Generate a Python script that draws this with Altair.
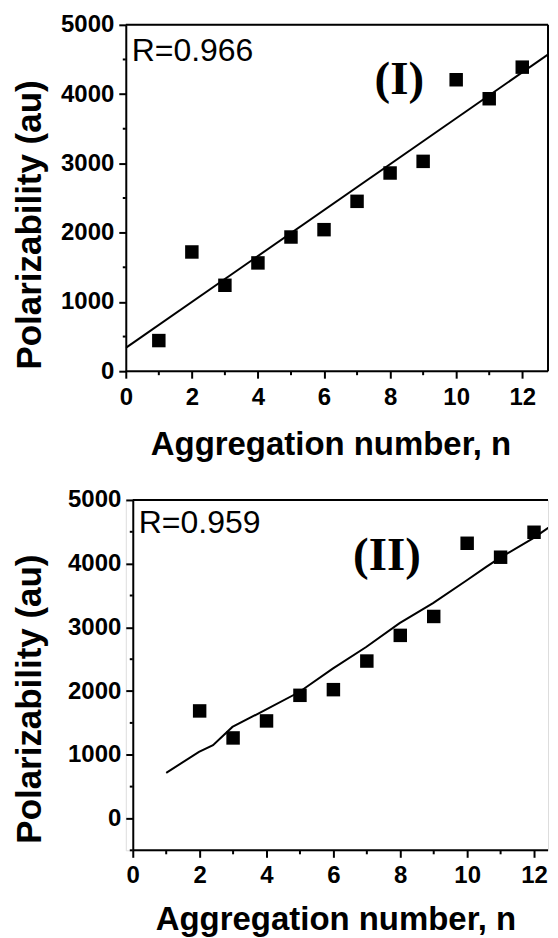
import altair as alt
import pandas as pd

# ---------------- data ----------------
n1 = [1, 2, 3, 4, 5, 6, 7, 8, 9, 10, 11, 12]
p1 = [442, 1721, 1240, 1563, 1937, 2043, 2452, 2861, 3029, 4207, 3933, 4389]
fit1_n = [0, 13]
fit1_p = [337, 4645]

n2 = [2, 3, 4, 5, 6, 7, 8, 9, 10, 11, 12]
p2 = [1688, 1264, 1531, 1933, 2022, 2471, 2874, 3171, 4320, 4101, 4493]
fit2_n = [1, 1.98, 2.4, 2.98, 3.98, 4.98, 5.98, 6.98, 7.98, 8.98, 9.98, 10.56, 10.93, 11.98, 12.66]
fit2_p = [716, 1045, 1150, 1437, 1708, 1985, 2351, 2691, 3067, 3380, 3736, 3945, 4075, 4400, 4650]

x_major = [0, 2, 4, 6, 8, 10, 12]
x_minor = [1, 3, 5, 7, 9, 11]
y_major1 = [0, 1000, 2000, 3000, 4000, 5000]
y_minor1 = [500, 1500, 2500, 3500, 4500]
y_major2 = [0, 1000, 2000, 3000, 4000, 5000]
y_minor2 = [-500, 500, 1500, 2500, 3500, 4500]

r_labels = ["R=0.966", "R=0.959"]
panel_labels = ["(I)", "(II)"]

FONT = "Liberation Sans"
W = 423


def panel(n, p, fn, fp, xdom, ydom, h, ymaj, ymin, rlab, plab, rpos, ppos,
          xtitle_pos, ytitle_pos, xlabpad, yoff, right_border):
    w = W
    xs = alt.Scale(domain=xdom, nice=False, zero=False)
    ys = alt.Scale(domain=ydom, nice=False, zero=False)
    xaxis = alt.Axis(
        values=x_major, tickSize=7, domain=False,
        tickWidth=2, tickColor="black",
        labelFont=FONT, labelFontSize=24, labelFontWeight="bold", labelColor="black",
        labelPadding=xlabpad, labelFlush=False, labelOverlap=False, grid=False,
        title="Aggregation number, n", titleFont=FONT, titleFontSize=33,
        titleFontWeight="bold", titleColor="black",
        titleX=xtitle_pos[0], titleY=xtitle_pos[1], titleAlign="center",
        titleBaseline="top",
    )
    yaxis = alt.Axis(
        values=ymaj, format="d", tickSize=7, offset=-yoff,
        tickWidth=2, domainWidth=2, domainColor="black", tickColor="black",
        labelFont=FONT, labelFontSize=24, labelFontWeight="bold", labelColor="black",
        labelPadding=5, labelFlush=False, labelOverlap=False, grid=False,
        title="Polarizability (au)", titleFont=FONT, titleFontSize=35,
        titleFontWeight="bold", titleColor="black",
        titleX=ytitle_pos[0], titleY=ytitle_pos[1], titleAngle=270,
        titleAlign="center", titleBaseline="top",
    )
    pts = pd.DataFrame({"n": n, "p": p})
    fit = pd.DataFrame({"n": fn, "p": fp})

    base_pts = alt.Chart(pts).mark_point(
        shape="square", filled=True, size=182, color="black", opacity=1
    ).encode(
        x=alt.X("n:Q", scale=xs, axis=xaxis),
        y=alt.Y("p:Q", scale=ys, axis=yaxis),
    )
    line = alt.Chart(fit).mark_line(color="black", strokeWidth=2, clip=True).encode(
        x=alt.X("n:Q", scale=xs),
        y=alt.Y("p:Q", scale=ys),
    )
    rtext = alt.Chart(pd.DataFrame({"t": [rlab], "x": [rpos[0]], "y": [rpos[1]]})).mark_text(
        font=FONT, fontSize=32, align="left", baseline="alphabetic", color="black"
    ).encode(x=alt.X("x:Q", scale=xs), y=alt.Y("y:Q", scale=ys), text="t:N")
    ptext = alt.Chart(pd.DataFrame({"t": [plab], "x": [ppos[0]], "y": [ppos[1]]})).mark_text(
        font="Liberation Serif", fontSize=47, fontWeight="bold", align="center",
        baseline="alphabetic", color="black"
    ).encode(x=alt.X("x:Q", scale=xs), y=alt.Y("y:Q", scale=ys), text="t:N")
    frame = pd.DataFrame({"x": [0], "x2": [xdom[1]], "ytop": [ydom[1]]})
    top = alt.Chart(frame).mark_rule(color="black", strokeWidth=2).encode(
        x=alt.X("x:Q", scale=xs), x2="x2:Q", y=alt.Y("ytop:Q", scale=ys))
    bottom = alt.Chart(frame).mark_rule(color="black", strokeWidth=2).encode(
        x=alt.X("x:Q", scale=xs), x2="x2:Q", y=alt.value(h))
    xmin_ticks = alt.Chart(pd.DataFrame({"v": x_minor})).mark_rule(
        color="black", strokeWidth=2
    ).encode(x=alt.X("v:Q", scale=xs), y=alt.value(h), y2=alt.value(h + 4))
    ymin_ticks = alt.Chart(pd.DataFrame({"v": ymin})).mark_rule(
        color="black", strokeWidth=2
    ).encode(y=alt.Y("v:Q", scale=ys), x=alt.value(yoff - 3), x2=alt.value(yoff))
    layers = [top, bottom, xmin_ticks, ymin_ticks, line, base_pts, rtext, ptext]
    if right_border:
        rb = alt.Chart(pd.DataFrame({"x": [xdom[1]]})).mark_rule(
            color="black", strokeWidth=2
        ).encode(x=alt.X("x:Q", scale=xs), y=alt.value(0), y2=alt.value(h))
        layers.insert(0, rb)
    return alt.layer(*layers).properties(width=w, height=h)


# panel I: y axis at the plot's left edge; panel II: y axis 7 px inside
c1 = panel(n1, p1, fit1_n, fit1_p, [0, 423 / 33.1], [0, 5000], 347, y_major1, y_minor1,
           r_labels[0], panel_labels[0], (0.18, 4481), (8.28, 4006),
           (205, 57), (-113.6, 200), 7, 0, True)
c2 = panel(n2, p2, fit2_n, fit2_p, [-7 / 33.5, (423 - 7) / 33.5], [-500, 5000], 351,
           y_major2, y_minor2,
           r_labels[1], panel_labels[1], (0.18, 4483), (7.6, 3903),
           (210, 53), (-120.6, 199), 6, 7, False)

chart = alt.vconcat(c1, c2, spacing=25).properties(
    padding={"left": 3, "top": 3, "right": 0, "bottom": 0},
).configure_view(stroke=None).configure(background="white")

chart.save("out.html", embed_options={"renderer": "svg", "actions": False})
